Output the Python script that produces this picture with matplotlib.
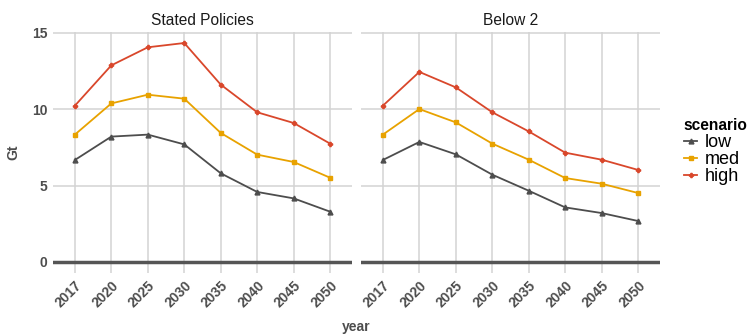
import numpy as np
import matplotlib.pyplot as plt
from matplotlib.lines import Line2D

plt.rcParams['font.family'] = ['Liberation Sans', 'DejaVu Sans']

years = ['2017', '2020', '2025', '2030', '2035', '2040', '2045', '2050']
panels = ['Stated Policies', 'Below 2']
scenarios = ['low', 'med', 'high']

# Gt values
stated_low = [6.67, 8.2, 8.33, 7.69, 5.8, 4.58, 4.16, 3.29]
stated_med = [8.33, 10.37, 10.94, 10.68, 8.44, 7.02, 6.54, 5.51]
stated_high = [10.22, 12.86, 14.04, 14.32, 11.6, 9.79, 9.09, 7.74]
below2_low = [6.67, 7.85, 7.04, 5.71, 4.66, 3.57, 3.2, 2.68]
below2_med = [8.33, 10.0, 9.13, 7.74, 6.69, 5.49, 5.12, 4.51]
below2_high = [10.22, 12.43, 11.42, 9.79, 8.54, 7.15, 6.69, 6.02]

data = {
    'Stated Policies': [stated_low, stated_med, stated_high],
    'Below 2': [below2_low, below2_med, below2_high],
}
colors = ['#4d4d4d', '#E8A200', '#D9472B']
markers = ['^', 's', 'P']
msizes = [3.5, 3.2, 3.0]

W, H = 749, 334
fig = plt.figure(figsize=(W/100, H/100), dpi=100)
axes_pos = [[53/W, 1-273/H, 299/W, 241/H],
            [361/W, 1-273/H, 299/W, 241/H]]
gray = '#4d4d4d'
x = np.arange(1, len(years)+1)

for i, name in enumerate(panels):
    ax = fig.add_axes(axes_pos[i])
    for j, sc in enumerate(scenarios):
        ax.plot(x, data[name][j], color=colors[j], marker=markers[j],
                markersize=msizes[j], lw=1.3, zorder=3)
    ax.axhline(0, color='#555555', lw=2.5, zorder=2)
    ax.set_xlim(0.4, 8.6)
    ax.set_ylim(-0.72, 15.04)
    ax.set_yticks([0, 5, 10, 15])
    ax.set_xticks(x)
    ax.set_xticklabels(years, rotation=45, ha='right', rotation_mode='anchor')
    ax.grid(True, color='#d3d3d3', lw=1.1, zorder=0)
    ax.set_axisbelow(True)
    for s in ax.spines.values():
        s.set_visible(False)
    ax.tick_params(length=0, labelsize=10, labelcolor=gray, pad=4)
    for lab in ax.get_xticklabels() + ax.get_yticklabels():
        lab.set_fontweight('bold')
    ax.set_title(name, fontsize=11.2, color='#1a1a1a', pad=5)
    if i == 0:
        ax.set_ylabel('Gt', fontsize=10, fontweight='bold', color=gray, labelpad=8)
    else:
        ax.set_yticklabels([])

fig.text(356/W, 1-327/H, 'year', ha='center', va='center',
         fontsize=10, fontweight='bold', color=gray)

# legend: title as plain text, entries below it
fig.text(683/W, 1-125/H, 'scenario', ha='left', va='center',
         fontsize=11.2, fontweight='bold', color='black')
handles = [Line2D([0], [0], color=colors[j], marker=markers[j],
                  markersize=msizes[j], lw=1.3) for j in range(3)]
leg = fig.legend(handles, scenarios, loc='upper left',
                 bbox_to_anchor=(683/W, 1-133/H), frameon=False,
                 fontsize=13, handlelength=0.72, handletextpad=0.44,
                 labelspacing=0.0, borderaxespad=0, borderpad=0)

# nudge the legend so the first label starts where the reference has it
fig.canvas.draw()
r = fig.canvas.get_renderer()
ext = leg.get_texts()[0].get_window_extent(r)
dx = (705 - ext.x0) / W
dy = ((H - 143) - (ext.y0 + ext.y1) / 2) / H
leg.set_bbox_to_anchor((683/W + dx, 1-133/H + dy), transform=fig.transFigure)

fig.savefig('out.png', dpi=100)
